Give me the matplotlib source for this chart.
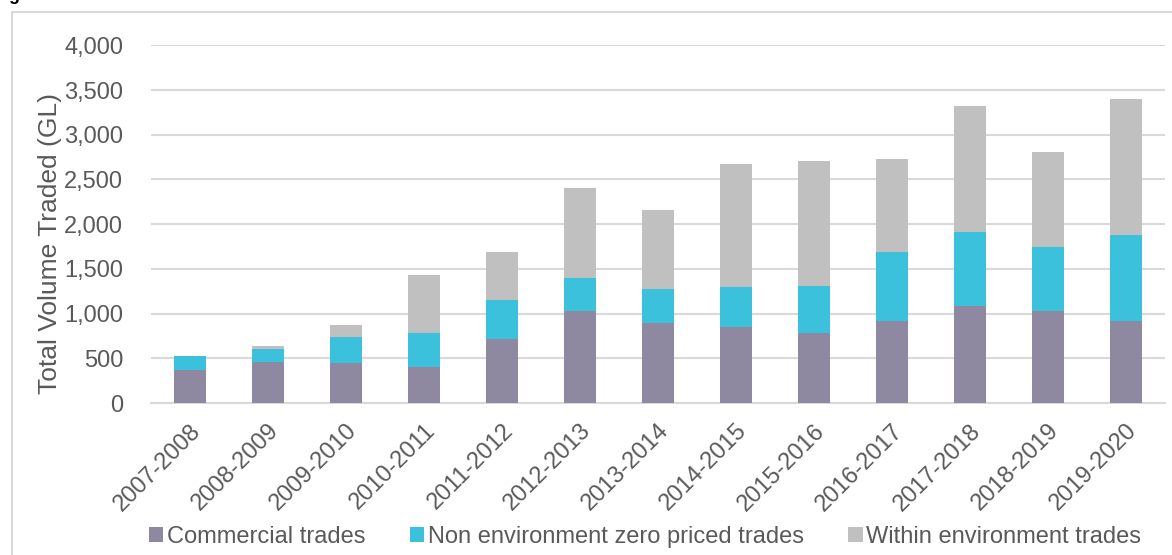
import matplotlib
matplotlib.use("Agg")
import matplotlib.pyplot as plt
import numpy as np
from matplotlib.patches import Rectangle

seasons = ["2007-2008", "2008-2009", "2009-2010", "2010-2011", "2011-2012",
           "2012-2013", "2013-2014", "2014-2015", "2015-2016", "2016-2017",
           "2017-2018", "2018-2019", "2019-2020"]
commercial = [366, 463, 444, 403, 716, 1030, 894, 853, 785, 920, 1081, 1032, 912]
non_env_zero = [164, 141, 299, 377, 433, 367, 385, 448, 527, 774, 826, 714, 965]
within_env = [0, 30, 134, 653, 541, 1003, 878, 1374, 1389, 1030, 1414, 1064, 1526]

col_comm = "#8e89a0"
col_zero = "#3cc1dc"
col_within = "#c0c0c0"
txt = "#595959"

plt.rcParams["font.family"] = ["Liberation Sans", "DejaVu Sans"]

W, H = 1172, 555
fig = plt.figure(figsize=(W / 100, H / 100), dpi=100)
ax = fig.add_axes([151 / W, 1 - 403 / H, (1165 - 151) / W, (403 - 45.3) / H])

x = np.arange(len(seasons))
w = 0.4
b1 = ax.bar(x, commercial, w, color=col_comm, label="Commercial trades", zorder=3)
bottom2 = np.array(commercial)
b2 = ax.bar(x, non_env_zero, w, bottom=bottom2, color=col_zero,
            label="Non environment zero priced trades", zorder=3)
bottom3 = bottom2 + np.array(non_env_zero)
b3 = ax.bar(x, within_env, w, bottom=bottom3, color=col_within,
            label="Within environment trades", zorder=3)

ax.set_xlim(-0.5, len(seasons) - 0.5)
ax.set_ylim(0, 4000)
ax.set_yticks(range(0, 4001, 500))
ax.set_yticklabels([f"{v:,}" for v in range(0, 4001, 500)])
ax.yaxis.grid(True, color="#d9d9d9", linewidth=1.5, zorder=0)
for s in ["top", "right", "left"]:
    ax.spines[s].set_visible(False)
ax.spines["bottom"].set_color("#d9d9d9")
ax.spines["bottom"].set_linewidth(1.5)
ax.tick_params(axis="both", length=0, labelsize=17, labelcolor=txt)
ax.tick_params(axis="y", pad=20)
ax.set_xticks(x)
ax.set_xticklabels(seasons, rotation=45, ha="right", rotation_mode="anchor")
ax.tick_params(axis="x", pad=12)
ax.set_ylabel("Total Volume Traded (GL)", fontsize=19, color=txt)
# label's right edge sits just left of the tick numbers
ax.yaxis.set_label_coords(62 / W, 1 - 244 / H, transform=fig.transFigure)

fig.legend(handles=[b1, b2, b3], loc="center", bbox_to_anchor=(645 / W, 1 - 537 / H),
           ncol=3, frameon=False, fontsize=17, labelcolor=txt,
           handlelength=0.6, handleheight=0.6, handletextpad=0.15,
           columnspacing=1.9, borderaxespad=0)

# outer chart frame
fig.patches.append(Rectangle((12 / W, -0.1), 1.2, 1 - 12 / H + 0.1,
                             transform=fig.transFigure, fill=False,
                             edgecolor="#d9d9d9", linewidth=1.5))
fig.text(-6 / W, 1.0, "Figure", fontsize=13, fontweight="bold",
         color="black", va="baseline", ha="left")

fig.savefig("out.png", dpi=100)
